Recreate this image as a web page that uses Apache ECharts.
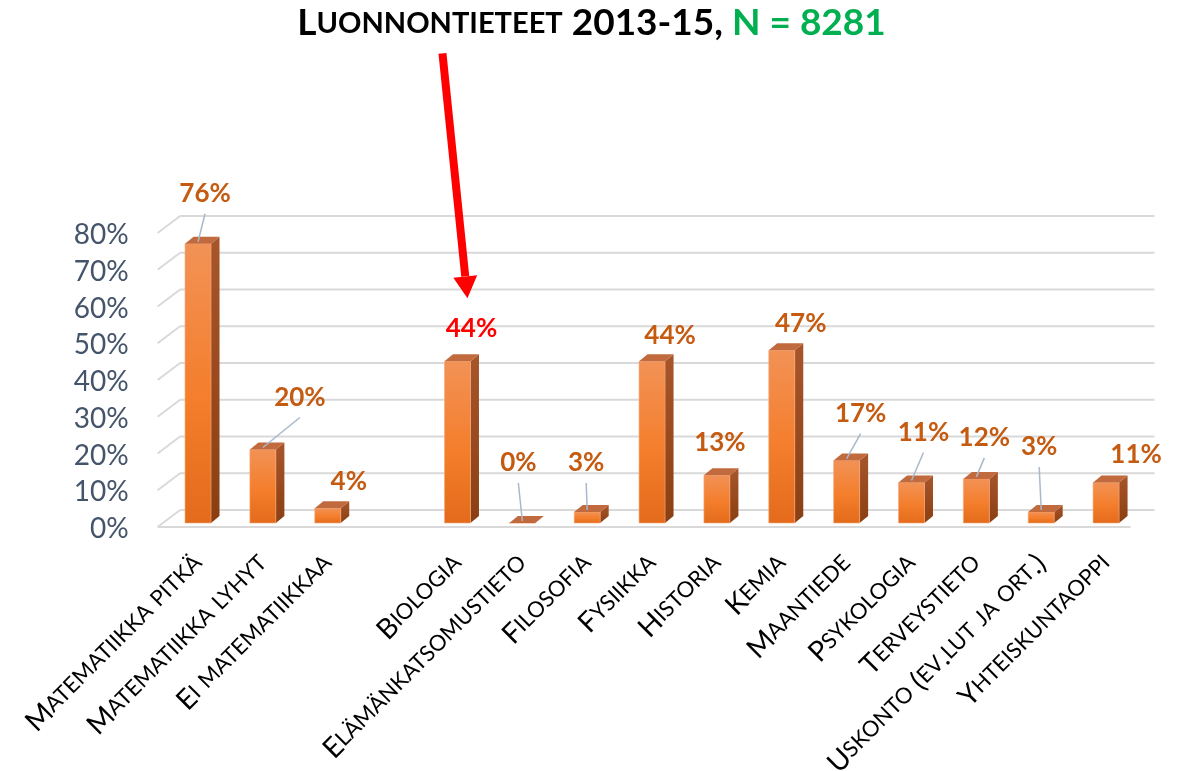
<!DOCTYPE html>
<html><head><meta charset="utf-8">
<script src="https://cdn.jsdelivr.net/npm/echarts@6/dist/echarts.min.js"></script>
<style>html,body{margin:0;padding:0;background:#fff}#c{width:1183px;height:771px}</style>
</head><body><div id="c"></div>
<script>
// ---- data ----
const categories = ['Matematiikka pitkä','Matematiikka lyhyt','Ei matematiikkaa','','Biologia','Elämänkatsomustieto','Filosofia','Fysiikka','Historia','Kemia','Maantiede','Psykologia','Terveystieto','Uskonto (ev.lut ja ort.)','Yhteiskuntaoppi'];
const values = [76, 20, 4, null, 44, 0, 3, 44, 13, 47, 17, 11, 12, 3, 11];
const yTicks = [0, 10, 20, 30, 40, 50, 60, 70, 80];
const highlightCategory = 'Biologia';
const titleWord = 'Luonnontieteet';
const titleYears = '2013-15,';
const titleN = 'N = 8281';

// ---- label placement (styling, pixels relative to bar top) ----
const labelOffsets = [[7,-50],[37,-52],[21,-27],[0,0],[14,-33],[-4,-60],[-1,-49],[18,-26],[3,-33],[19,-27],[14,-47],[12,-50],[8,-41],[-2,-65],[30,-28]];
const leaderLines = [true,true,false,false,false,true,true,false,false,false,true,true,true,true,false];

const FONT = 'Lato, "Open Sans", sans-serif';

function smallCaps(str, big, small) {
  let out = '', run = '', runType = null;
  for (const ch of str) {
    const isLower = ch !== ch.toUpperCase();
    const t = isLower ? small : big;
    if (t !== runType && run) { out += '{' + runType + '|' + run + '}'; run = ''; }
    runType = t; run += ch.toUpperCase();
  }
  if (run) out += '{' + runType + '|' + run + '}';
  return out;
}

const chart = echarts.init(document.getElementById('c'), null, {renderer: 'canvas'});

function renderGrid(params, api) {
  const cs = params.coordSys;
  const v = api.value(1);
  const y = api.coord([0, v])[1];
  const fx = cs.x - 8, fy = y + 4, bx = cs.x + 14.5, byy = y - 13;
  const st = {stroke: '#D9D9D9', lineWidth: 2};
  const ch = [
    {type: 'line', shape: {x1: fx, y1: fy, x2: bx, y2: byy}, style: st},
    {type: 'line', shape: {x1: bx, y1: byy, x2: cs.x + cs.width + 16, y2: byy}, style: st},
    {type: 'text', style: {text: v + '%', x: cs.x - 37, y: y + 6, align: 'right', verticalAlign: 'middle',
      fontSize: 28, fontFamily: FONT, fill: '#44546A'}}
  ];
  if (v === 0) ch.push({type: 'line', shape: {x1: fx, y1: fy, x2: cs.x + cs.width - 8, y2: fy}, style: st});
  return {type: 'group', children: ch};
}

function renderBar(params, api) {
  const idx = params.dataIndex;
  const v = values[idx];
  if (v === null || v === undefined) return null;
  const base = api.coord([idx, 0]);
  const topP = api.coord([idx, v]);
  const cx = base[0], by = base[1], ty = topP[1];
  const w = 26, dx = 8.5, dy = 7;
  const hl = categories[idx] === highlightCategory;
  const children = [
    {type: 'polygon', shape: {points: [[cx + w/2, ty], [cx + w/2 + dx, ty - dy], [cx + w/2 + dx, by - dy], [cx + w/2, by]]},
      style: {fill: {type: 'linear', x: 0, y: 0, x2: 0, y2: 1, colorStops: [{offset: 0, color: '#A8552A'}, {offset: 1, color: '#8A3F12'}]}}},
    {type: 'rect', shape: {x: cx - w/2, y: ty, width: w, height: by - ty},
      style: {fill: {type: 'linear', x: 0, y: 0, x2: 0, y2: 1, colorStops: [{offset: 0, color: '#F29256'}, {offset: 0.55, color: '#F47E2C'}, {offset: 1, color: '#E36B1B'}]}, stroke: '#F7A878', lineWidth: 0.6}},
    {type: 'polygon', shape: {points: [[cx - w/2, ty], [cx - w/2 + dx, ty - dy], [cx + w/2 + dx, ty - dy], [cx + w/2, ty]]},
      style: {fill: '#C06A3E'}}
  ];
  const off = labelOffsets[idx];
  const lx = cx + off[0], ly = ty + off[1];
  if (leaderLines[idx]) {
    children.push({type: 'line', shape: {x1: cx, y1: ty - 2, x2: lx, y2: ly + 20}, style: {stroke: '#A9B8CB', lineWidth: 1.5}});
  }
  children.push({type: 'text', style: {text: v + '%', x: lx, y: ly, align: 'center', verticalAlign: 'middle',
    fontSize: 26, fontWeight: 'bold', fontFamily: FONT, fill: hl ? '#FF0000' : '#C55A11'}});
  if (hl) {
    const tipX = lx - 4, tipY = ly - 30;
    const tailX = tipX - 25, tailY = tipY - 245;
    const headLen = 22, headW = 12;
    const ang = Math.atan2(tipY - tailY, tipX - tailX);
    const bxp = tipX - headLen * Math.cos(ang), byp = tipY - headLen * Math.sin(ang);
    const nx = -Math.sin(ang), ny = Math.cos(ang);
    children.push({type: 'line', shape: {x1: tailX, y1: tailY, x2: bxp, y2: byp}, style: {stroke: '#FF0000', lineWidth: 8}});
    children.push({type: 'polygon', shape: {points: [[tipX, tipY], [bxp + nx * headW, byp + ny * headW], [bxp - nx * headW, byp - ny * headW]]}, style: {fill: '#FF0000'}});
  }
  return {type: 'group', children};
}

const option = {
  animation: false,
  backgroundColor: '#fff',
  title: {
    text: smallCaps(titleWord, 'b', 's') + '{b| ' + titleYears + ' }{g|' + titleN + '}',
    left: 'center', top: 0,
    textStyle: {
      rich: {
        b: {fontSize: 37, fontWeight: 'bold', color: '#000', fontFamily: FONT},
        s: {fontSize: 29, fontWeight: 'bold', color: '#000', fontFamily: FONT},
        g: {fontSize: 37, fontWeight: 'bold', color: '#00B050', fontFamily: FONT}
      }
    }
  },
  grid: {left: 165.6, right: 44.5, top: 229, bottom: 248, containLabel: false, outerBoundsMode: 'none'},
  xAxis: {
    type: 'category', data: categories,
    axisLine: {show: false}, axisTick: {show: false}, splitLine: {show: false},
    axisLabel: {
      interval: 0, rotate: 45, margin: 36,
      formatter: (val) => val ? smallCaps(val, 'b', 's') : '',
      rich: {
        b: {fontSize: 28, color: '#000', fontFamily: FONT},
        s: {fontSize: 22, color: '#000', fontFamily: FONT}
      }
    }
  },
  yAxis: {
    type: 'value', min: 0, max: 80, interval: 10,
    axisLine: {show: false}, axisTick: {show: false}, splitLine: {show: false},
    axisLabel: {show: false}
  },
  series: [
    {type: 'custom', renderItem: renderGrid, data: yTicks.map(v => [0, v]), clip: false, silent: true, z: 1},
    {type: 'custom', renderItem: renderBar, data: values.map((v, i) => [i, v === null ? 0 : v]), clip: false, z: 2}
  ]
};
chart.setOption(option);
</script></body></html>
